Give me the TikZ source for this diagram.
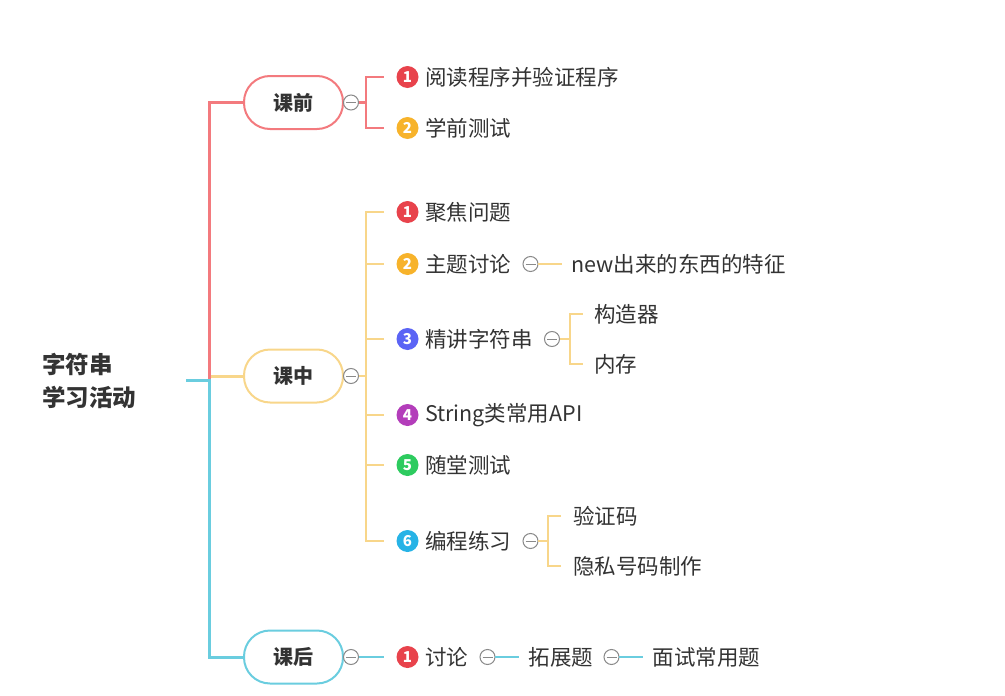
\documentclass[tikz,border=0pt]{standalone}
\usepackage{fontspec}
\setmainfont{Noto Sans CJK SC}
\usetikzlibrary{positioning}
\definecolor{kqpink}{HTML}{F37A7E}
\definecolor{kzyel}{HTML}{F8D68A}
\definecolor{khteal}{HTML}{6ACDDF}
\definecolor{foldgrey}{HTML}{8A8A8A}
\definecolor{txt}{HTML}{333333}
\definecolor{bred}{HTML}{E8434C}
\definecolor{borange}{HTML}{F7B32B}
\definecolor{bblue}{HTML}{5B64F5}
\definecolor{bpurple}{HTML}{B33DBA}
\definecolor{bgreen}{HTML}{2DCB5F}
\definecolor{bcyan}{HTML}{27B3E6}
\begin{document}
\begin{tikzpicture}[x=1pt,y=-1pt,
  topic/.style={draw=#1, line width=2pt, fill=white, rounded corners=26pt, minimum width=99pt, minimum height=53pt, inner sep=0pt, text=txt, font=\bfseries\fontsize{20}{24}\selectfont},
  fold/.style={circle, draw=foldgrey, line width=1pt, fill=white, minimum size=15pt, inner sep=0pt, outer sep=0pt,
    path picture={\draw[foldgrey, line width=1pt] ([xshift=-5pt]path picture bounding box.center) -- ([xshift=5pt]path picture bounding box.center);}},
  badge/.style={circle, fill=#1, minimum size=22pt, inner sep=0pt, outer sep=0pt, text=white, font=\bfseries\fontsize{15}{15}\selectfont},
  item/.style={inner sep=0pt, outer sep=0pt, text=txt, font=\fontsize{21.5}{24}\selectfont},
  trunk/.style={draw=#1, line width=3pt},
  twig/.style={draw=#1, line width=2.4pt},
]
\useasboundingbox (0,0) rectangle (1005,696);

% root
\node[item, anchor=west, align=left, font=\bfseries\fontsize{23.5}{33}\selectfont] (root) at (42,381) {字符串\\学习活动};
\coordinate (rs) at (186,380);
\coordinate (rj) at (209,380);

% main topics
\node[topic=kqpink] (kq) at (293.5,102.5) {课前};
\node[topic=kzyel] (kz) at (293.5,376) {课中};
\node[topic=khteal] (kh) at (293.5,657) {课后};

\draw[trunk=kzyel] (kz) -- (kz -| rj);
\draw[trunk=kqpink] (rj) |- (kq);
\draw[trunk=khteal] (rs) -- (rj) |- (kh);

\node[fold] (kqf) at (351,102.5) {};
\node[fold] (kzf) at (351,376) {};
\node[fold] (khf) at (351,657) {};

% before class
\node[badge=bred] (a1) at (407.5,77) {1};
\node[item, right=6.5pt of a1] (a1t) {阅读程序并验证程序};
\node[badge=borange] (a2) at (407.5,128) {2};
\node[item, right=6.5pt of a2] (a2t) {学前测试};

\coordinate (kqj) at (366,102.5);
\draw[twig=kqpink] (kqf) -- (kqj);
\draw[twig=kqpink, shorten >=12.5pt] (kqj) |- (a1);
\draw[twig=kqpink, shorten >=12.5pt] (kqj) |- (a2);

% in class
\node[badge=bred] (b1) at (407.5,212) {1};
\node[item, right=6.5pt of b1] (b1t) {聚焦问题};
\node[badge=borange] (b2) at (407.5,264) {2};
\node[item, right=6.5pt of b2] (b2t) {主题讨论};
\node[badge=bblue] (b3) at (407.5,339) {3};
\node[item, right=6.5pt of b3] (b3t) {精讲字符串};
\node[badge=bpurple] (b4) at (407.5,415) {4};
\node[item, right=6.5pt of b4] (b4t) {String类常用API};
\node[badge=bgreen] (b5) at (407.5,465) {5};
\node[item, right=6.5pt of b5] (b5t) {随堂测试};
\node[badge=bcyan] (b6) at (407.5,541) {6};
\node[item, right=6.5pt of b6] (b6t) {编程练习};

\coordinate (kzj) at (366,376);
\draw[twig=kzyel] (kzf) -- (kzj);
\draw[twig=kzyel, shorten >=12.5pt] (kzj) |- (b1);
\draw[twig=kzyel, shorten >=12.5pt] (kzj) |- (b2);
\draw[twig=kzyel, shorten >=12.5pt] (kzj) |- (b3);
\draw[twig=kzyel, shorten >=12.5pt] (kzj) |- (b4);
\draw[twig=kzyel, shorten >=12.5pt] (kzj) |- (b5);
\draw[twig=kzyel, shorten >=12.5pt] (kzj) |- (b6);

\node[fold, right=12pt of b2t] (b2f) {};
\node[item, right=33.5pt of b2f] (b2a) {new出来的东西的特征};
\draw[twig=kzyel, shorten >=10pt] (b2f) -- (b2a);

\node[fold, right=12pt of b3t] (b3f) {};
\coordinate (b3j) at ([xshift=10.5pt]b3f.east);
\node[item, anchor=west] (b3a) at (594,314) {构造器};
\node[item, anchor=west] (b3b) at (594,364) {内存};
\draw[twig=kzyel] (b3f) -- (b3j);
\draw[twig=kzyel, shorten >=11pt] (b3j) |- (b3a);
\draw[twig=kzyel, shorten >=11pt] (b3j) |- (b3b);

\node[fold, right=12pt of b6t] (b6f) {};
\coordinate (b6j) at ([xshift=10pt]b6f.east);
\node[item, anchor=west] (b6a) at (573,516) {验证码};
\node[item, anchor=west] (b6b) at (573,566) {隐私号码制作};
\draw[twig=kzyel] (b6f) -- (b6j);
\draw[twig=kzyel, shorten >=12pt] (b6j) |- (b6a);
\draw[twig=kzyel, shorten >=12pt] (b6j) |- (b6b);

% after class
\node[badge=bred] (c1) at (407.5,657) {1};
\node[item, right=6.5pt of c1] (c1t) {讨论};
\node[fold, right=12pt of c1t] (c1f) {};
\node[item, right=33.5pt of c1f] (c2) {拓展题};
\node[fold, right=11pt of c2] (c2f) {};
\node[item, right=33.5pt of c2f] (c3) {面试常用题};

\draw[twig=khteal, shorten >=12.5pt] (khf) -- (c1);
\draw[twig=khteal, shorten >=10pt] (c1f) -- (c2);
\draw[twig=khteal, shorten >=10pt] (c2f) -- (c3);
\end{tikzpicture}
\end{document}
